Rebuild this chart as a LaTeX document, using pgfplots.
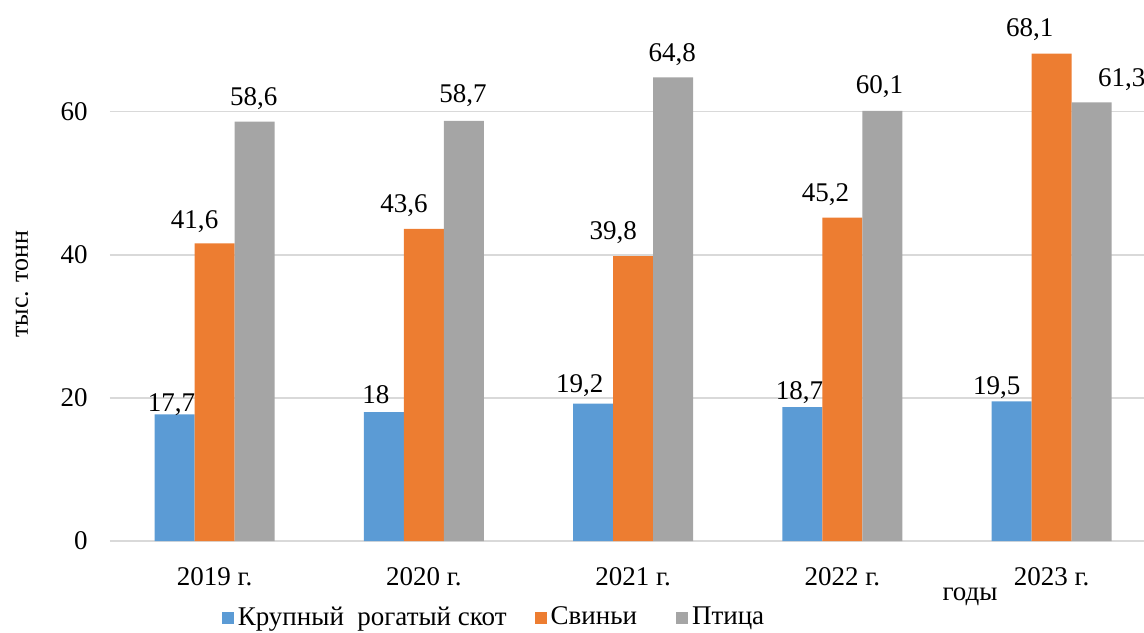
\documentclass[border=0pt]{standalone}
\usepackage{fontspec}
\setmainfont{Liberation Serif}
\usepackage{pgfplots}
\usepackage{pgfplotstable}
\pgfplotsset{compat=1.18}
\definecolor{cblue}{HTML}{5B9BD5}
\definecolor{corange}{HTML}{ED7D31}
\definecolor{cgray}{HTML}{A5A5A5}
\definecolor{cgrid}{HTML}{D9D9D9}

% x = year index, y = value, dx/dy = label offsets (pt)
\pgfplotstableread{
x y dx dy
0 17.7 -1.5 1.5
1 18 -4 4.5
2 19.2 -6.75 5.5
3 18.7 -1.5 4
4 19.5 -7.5 3.5
}\tblA
\pgfplotstableread{
x y dx dy
0 41.6 -10 7.5
1 43.6 -10 8
2 39.8 -10 8.5
3 45.2 -8.5 8
4 68.1 -11 8.5
}\tblB
\pgfplotstableread{
x y dx dy
0 58.6 -0.5 8
1 58.7 -0.5 9
2 64.8 -0.5 8
3 60.1 -1.5 8.5
4 61.3 15 8
}\tblC

\begin{document}
\begin{tikzpicture}
\begin{axis}[
  at={(55pt,45.5pt)}, anchor=south west,
  scale only axis,
  width=523.125pt, height=270.5pt,
  xmin=-0.5, xmax=4.5, ymin=0, ymax=75.6,
  ybar=0pt, bar width=20pt,
  axis line style={draw=none},
  major tick length=0pt,
  ymajorgrids,
  grid style={cgrid, line width=0.75pt},
  xtick={0,1,2,3,4},
  xticklabels={2019 г.,2020 г.,2021 г.,2022 г.,2023 г.},
  ytick={0,20,40,60},
  xticklabel style={anchor=base, inner sep=0pt, yshift=-22pt, font=\fontsize{13.5}{15}\selectfont},
  yticklabel style={anchor=east, inner sep=0pt, xshift=-11pt, font=\fontsize{13.5}{15}\selectfont},
  /pgf/number format/use comma,
  /pgf/number format/assume math mode=true,
  ylabel={тыс. тонн},
  ylabel style={at={(axis description cs:-0.0841,0.475)}, anchor=center, font=\fontsize{13}{15}\selectfont},
  clip=false,
  legend columns=3,
  legend style={at={(axis description cs:0.368,-0.1414)}, anchor=center, draw=none,
    font=\fontsize{13.5}{15}\selectfont,
    /tikz/column 2/.style={column sep=12pt},
    /tikz/column 4/.style={column sep=17.5pt}},
  legend image code/.code={\fill[#1] (0pt,-3pt) rectangle (6pt,3pt);},
  nodes near coords,
  every node near coord/.append style={anchor=base, inner sep=0pt, text=black,
    font=\fontsize{13.5}{15}\selectfont},
]
\addplot[fill=cblue, draw=none,
  visualization depends on={\thisrow{dx}\as\dx},
  visualization depends on={\thisrow{dy}\as\dy},
  every node near coord/.append style={xshift=\dx pt, yshift=\dy pt}]
  table[x=x,y=y]{\tblA};
\addplot[fill=corange, draw=none,
  visualization depends on={\thisrow{dx}\as\dx},
  visualization depends on={\thisrow{dy}\as\dy},
  every node near coord/.append style={xshift=\dx pt, yshift=\dy pt}]
  table[x=x,y=y]{\tblB};
\addplot[fill=cgray, draw=none,
  visualization depends on={\thisrow{dx}\as\dx},
  visualization depends on={\thisrow{dy}\as\dy},
  every node near coord/.append style={xshift=\dx pt, yshift=\dy pt}]
  table[x=x,y=y]{\tblC};
\legend{Крупный~~рогатый скот, Свиньи, Птица}
\node[anchor=base, inner sep=0pt, font=\fontsize{13.5}{15}\selectfont] at (axis cs:3.61,-8.25) {годы};
\end{axis}
\pgfresetboundingbox
\useasboundingbox (0,0) rectangle (572pt,316pt);
\end{tikzpicture}
\end{document}
